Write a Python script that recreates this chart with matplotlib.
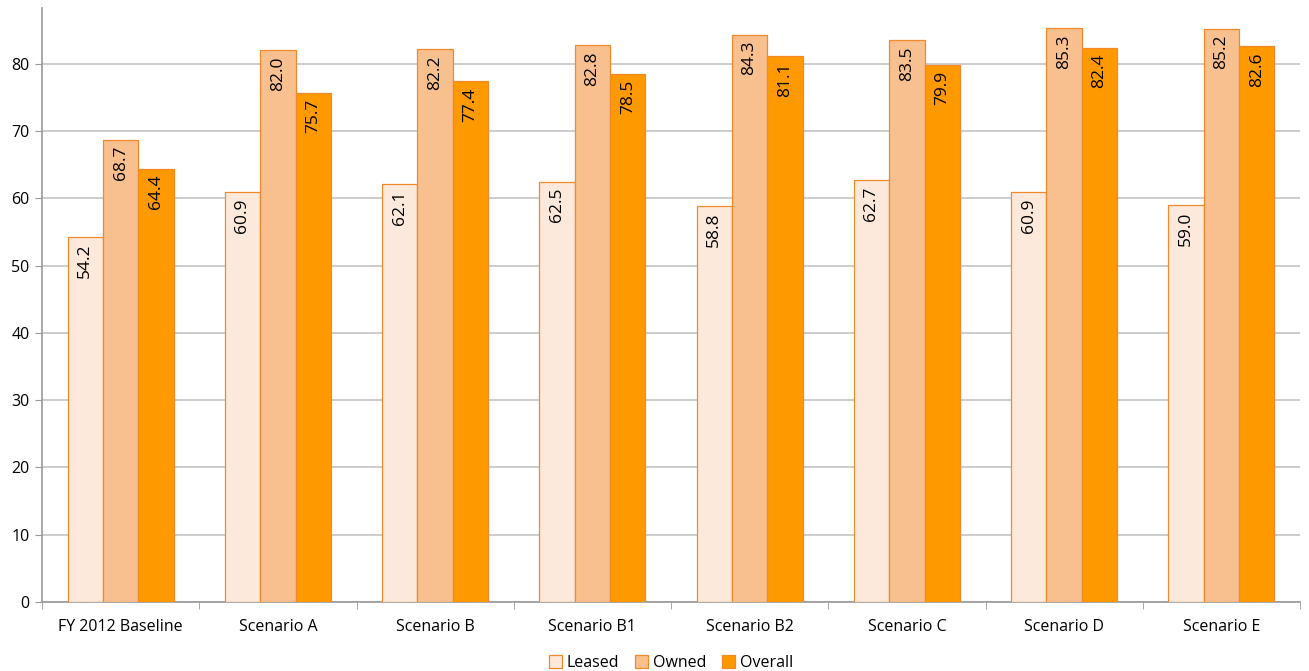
import numpy as np
import matplotlib.pyplot as plt

plt.rcParams['font.family'] = ['Open Sans', 'DejaVu Sans']

categories = ['FY 2012 Baseline', 'Scenario A', 'Scenario B', 'Scenario B1',
              'Scenario B2', 'Scenario C', 'Scenario D', 'Scenario E']
leased = [54.2, 60.9, 62.1, 62.5, 58.8, 62.7, 60.9, 59.0]
owned = [68.7, 82.0, 82.2, 82.8, 84.3, 83.5, 85.3, 85.2]
overall = [64.4, 75.7, 77.4, 78.5, 81.1, 79.9, 82.4, 82.6]

series = [('Leased', leased, '#FDE9DB'),
          ('Owned', owned, '#F9C08F'),
          ('Overall', overall, '#FF9900')]

fig = plt.figure(figsize=(13.09, 6.71), dpi=100)
ax = fig.add_axes([42 / 1309, 69 / 671, 1258 / 1309, 594 / 671])

x = np.arange(len(categories))
w = 0.225
for k, (name, vals, col) in enumerate(series):
    pos = x + (k - 1) * w
    bars = ax.bar(pos, vals, w, color=col, edgecolor='#F0892A', linewidth=0.9,
                  label=name, zorder=3)
    for b, v in zip(bars, vals):
        ax.text(b.get_x() + b.get_width() / 2, v - 0.9, f'{v:.1f}',
                rotation=90, ha='center', va='top', fontsize=12.5, zorder=4)

ax.set_xlim(-0.5, len(categories) - 0.5)
ax.set_ylim(0, 88.3)
ax.set_yticks(range(0, 90, 10))
ax.yaxis.grid(True, color='#C4C4C4', linewidth=1.2, zorder=0)
ax.set_axisbelow(True)

ax.set_xticks(x)
ax.set_xticklabels(categories, fontsize=11.5)
ax.tick_params(axis='x', length=0, pad=12)
ax.set_xticks(np.arange(-0.5, len(categories)), minor=True)
ax.tick_params(axis='x', which='minor', length=5, color='#999999')
ax.tick_params(axis='y', length=5, color='#999999', labelsize=11.5, pad=4)

for s in ['top', 'right']:
    ax.spines[s].set_visible(False)
for s in ['left', 'bottom']:
    ax.spines[s].set_color('#999999')
    ax.spines[s].set_linewidth(1.2)

ax.legend(loc='upper center', bbox_to_anchor=(0.5, -0.065), ncol=3, frameon=False,
          fontsize=11.5, handlelength=0.8, handleheight=0.8, handletextpad=0.3,
          columnspacing=1.0)

fig.savefig('out.png', dpi=100)
